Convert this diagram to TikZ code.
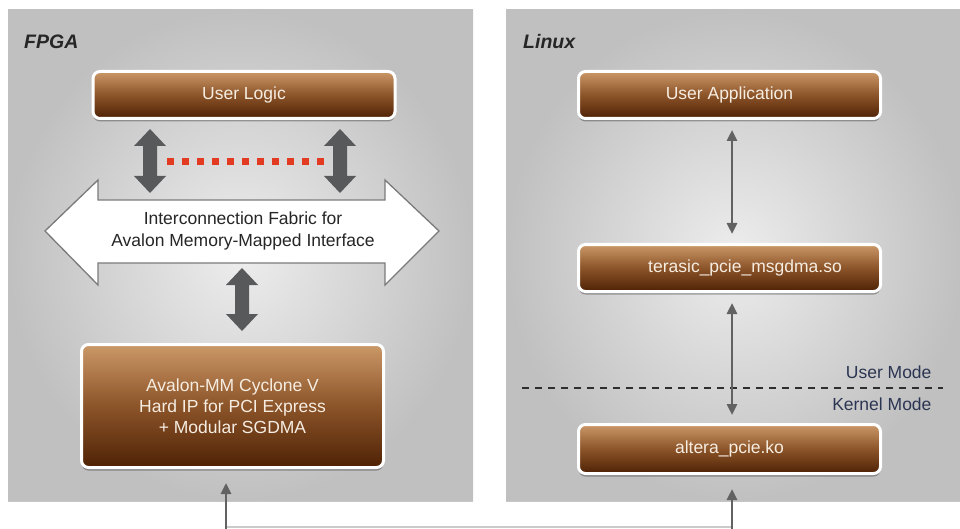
\documentclass[tikz,border=0pt]{standalone}
\usepackage{fontspec}
\setmainfont{Liberation Sans}
\usetikzlibrary{arrows.meta,shadows,calc}
\definecolor{panelin}{HTML}{EDEDED}
\definecolor{panelout}{HTML}{C0C0C0}
\definecolor{browntop}{HTML}{CB9868}
\definecolor{brownmid}{HTML}{8C5429}
\definecolor{brownbot}{HTML}{4E2205}
\definecolor{thickgray}{HTML}{58595B}
\definecolor{thingray}{HTML}{626262}
\definecolor{dotred}{HTML}{E23B22}
\definecolor{modeblue}{HTML}{2C3652}
\definecolor{boxtext}{HTML}{F6EDE2}
\definecolor{outlinegray}{HTML}{7A7A7A}
\definecolor{lightline}{HTML}{CACACA}
\definecolor{dashgray}{HTML}{2E2E2E}
\tikzset{
  panel/.style={shading=radial, inner color=panelin, outer color=panelout,
    drop shadow={shadow xshift=0pt, shadow yshift=-2pt, opacity=0.22, fill=black}},
  brownbox/.style={draw=white, line width=3pt, rounded corners=7pt,
    top color=browntop, bottom color=brownbot, middle color=brownmid,
    drop shadow={shadow xshift=0pt, shadow yshift=-3pt, opacity=0.3, fill=black},
    text=boxtext, font=\fontsize{17.5}{21}\selectfont, align=center, inner sep=0pt,
    minimum width=302pt},
  fatarrow/.style={fill=thickgray},
  thinarrow/.style={draw=thingray, line width=2.6pt,
    {Triangle[length=11pt,width=10pt]}-{Triangle[length=11pt,width=10pt]}},
  uparrow/.style={draw=thingray, line width=2.6pt, -{Triangle[length=11pt,width=10pt]}},
  bigtext/.style={font=\fontsize{17.5}{22}\selectfont, text=black!85, align=center},
  modetext/.style={font=\fontsize{17.5}{21}\selectfont, text=modeblue, anchor=east},
  title/.style={font=\bfseries\itshape\fontsize{19.5}{22}\selectfont, text=black!85, anchor=west, inner sep=0pt}
}
\newcommand\fatdouble[3]{% x, ytop, ybottom
  \fill[fatarrow] (#1-7,#2+17) -- (#1-16,#2+17) -- (#1,#2) -- (#1+16,#2+17) -- (#1+7,#2+17)
    -- (#1+7,#3-17) -- (#1+16,#3-17) -- (#1,#3) -- (#1-16,#3-17) -- (#1-7,#3-17) -- cycle;}
\begin{document}
\begin{tikzpicture}[x=1pt,y=-1pt]
\useasboundingbox (0,0) rectangle (960,529);
\fill[white] (0,0) rectangle (960,529);
% panels
\path[panel] (8,10) rectangle (473,500);
\path[panel] (506,10) rectangle (963,500);
\node[title] (fpga) at (24,42) {FPGA};
\node[title] (linux) at (523,42) {Linux};
% FPGA side
\node[brownbox, minimum height=47pt] (ulogic) at (244,95) {User Logic};
\draw[outlinegray, fill=white, line width=1.3pt] (45,231) -- (98,180) -- (98,200) -- (385,200)
  -- (385,180) -- (439,231) -- (385,285) -- (385,263) -- (98,263) -- (98,285) -- cycle;
\node[bigtext] (fabric) at (243,231) {Interconnection Fabric for\\Avalon Memory-Mapped Interface};
\fatdouble{150}{129}{193}
\fatdouble{340}{129}{193}
\draw[dotred, line width=7pt, dash pattern=on 7pt off 8pt] (167,162) -- (324,162);
\fatdouble{242}{268}{331}
\node[brownbox, minimum height=123pt] (avalon) at (232.5,406)
  {Avalon-MM Cyclone V\\Hard IP for PCI Express\\+ Modular SGDMA};
% Linux side
\node[brownbox, minimum height=47pt] (uapp) at (729.5,95) {User Application};
\node[brownbox, minimum height=47pt] (terasic) at (729.5,268) {\hspace*{31pt}terasic\_pcie\_msgdma.so};
\node[brownbox, minimum height=49pt] (altera) at (729.5,449) {altera\_pcie.ko};
\coordinate (dl) at (522,388);
\coordinate (dr) at (943,388);
\draw[dashgray, line width=2.6pt, dash pattern=on 7pt off 6pt] (dl) -- (dr);
\node[modetext] (umode) at (935,372) {User Mode};
\node[modetext] (kmode) at (935,404) {Kernel Mode};
\draw[thinarrow] ([xshift=2.5pt,yshift=-10pt]uapp.south) -- ([xshift=2.5pt,yshift=9pt]terasic.north);
\draw[thinarrow] ([xshift=2.5pt,yshift=-10pt]terasic.south) -- ([xshift=2.5pt,yshift=8pt]altera.north);
% bottom link
\coordinate (bl) at (226,527);
\coordinate (br) at (732,527);
\coordinate (bl0) at (226,530);
\coordinate (br0) at (732,530);
\draw[lightline, line width=1.2pt] (bl) -- (br);
\draw[uparrow] (bl0) -- ([yshift=-14pt]bl0 |- avalon.south);
\draw[uparrow] (br0) -- ([yshift=-14pt]br0 |- altera.south);
\end{tikzpicture}
\end{document}
